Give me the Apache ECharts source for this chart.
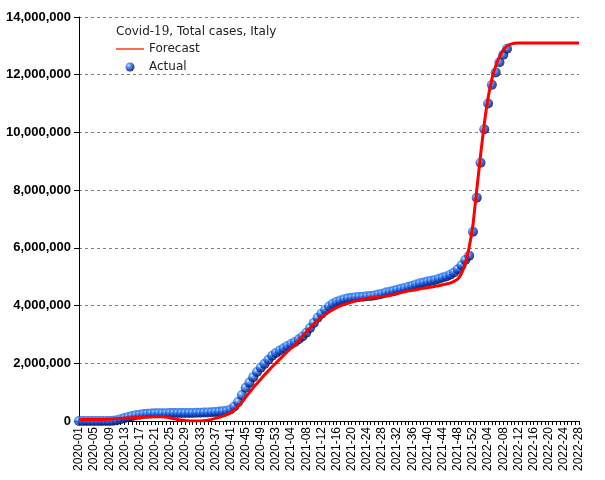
<!DOCTYPE html>
<html>
<head>
<meta charset="utf-8">
<script src="https://cdn.jsdelivr.net/npm/echarts@6/dist/echarts.min.js"></script>
<style>html,body{margin:0;padding:0;background:#fff;}#c{width:605px;height:480px;}</style>
</head>
<body>
<div id="c"></div>
<script>
// Week categories: years and the number of weeks shown for each
const years = [2020, 2021, 2022];
const weeksPerYear = [53, 52, 28];
const categories = [];
years.forEach((y, k) => {
  for (let w = 1; w <= weeksPerYear[k]; w++) categories.push(y + '-' + (w < 10 ? '0' + w : w));
});

const yTicks = [0, 2000000, 4000000, 6000000, 8000000, 10000000, 12000000, 14000000];

const forecast = [
  40000, 50000, 50000, 50000, 50000, 50000, 50000, 55000, 60000, 70000,
  80000, 90000, 100000, 105000, 110000, 115000, 120000, 130000, 140000, 145000,
  150000, 150000, 145000, 135000, 110000, 80000, 50000, 30000, 15000, 5000,
  0, 0, 0, 5000, 25000, 55000, 90000, 130000, 170000, 220000,
  290000, 380000, 500000, 650000, 820000, 990000, 1150000, 1300000, 1450000, 1600000,
  1740000, 1880000, 2010000, 2140000, 2270000, 2400000, 2520000, 2650000, 2790000, 2940000,
  3080000, 3220000, 3360000, 3480000, 3590000, 3690000, 3780000, 3860000, 3930000, 3990000,
  4040000, 4080000, 4120000, 4160000, 4190000, 4220000, 4250000, 4270000, 4290000, 4300000,
  4310000, 4330000, 4350000, 4380000, 4410000, 4450000, 4480000, 4510000, 4530000, 4550000,
  4580000, 4600000, 4620000, 4640000, 4670000, 4690000, 4720000, 4750000, 4780000, 4840000,
  4920000, 5120000, 5480000, 6020000, 6800000, 8000000, 9200000, 10300000, 11200000, 11850000,
  12300000, 12620000, 12850000, 13000000, 13060000, 13090000, 13100000, 13100000, 13100000, 13100000,
  13100000, 13100000, 13100000, 13100000, 13100000, 13100000, 13100000, 13100000, 13100000, 13100000,
  13100000, 13100000, 13100000
];

const actual = [
  0, 0, 0, 0, 0, 0, 0, 0, 0, 10000,
  30000, 60000, 100000, 140000, 170000, 200000, 220000, 240000, 250000, 260000,
  265000, 268000, 270000, 272000, 274000, 275000, 276000, 277000, 278000, 279000,
  280000, 283000, 287000, 292000, 298000, 305000, 315000, 325000, 335000, 355000,
  400000, 500000, 660000, 900000, 1150000, 1330000, 1520000, 1700000, 1850000, 1980000,
  2120000, 2260000, 2360000, 2440000, 2520000, 2600000, 2670000, 2740000, 2830000, 2930000,
  3060000, 3220000, 3400000, 3580000, 3720000, 3850000, 3970000, 4060000, 4130000, 4180000,
  4220000, 4250000, 4270000, 4290000, 4300000, 4310000, 4320000, 4330000, 4350000, 4380000,
  4410000, 4450000, 4480000, 4510000, 4550000, 4580000, 4610000, 4650000, 4690000, 4730000,
  4770000, 4800000, 4830000, 4860000, 4890000, 4930000, 4970000, 5010000, 5070000, 5150000,
  5260000, 5400000, 5580000, 5730000, 6560000, 7740000, 8950000, 10110000, 11000000, 11650000,
  12080000, 12430000, 12690000, 12900000
];

const sphere = {
  type: 'radial', x: 0.35, y: 0.32, r: 0.72,
  colorStops: [
    { offset: 0, color: '#d8f0ff' },
    { offset: 0.2, color: '#4aa0ff' },
    { offset: 0.55, color: '#1446d0' },
    { offset: 0.85, color: '#061a70' },
    { offset: 1, color: '#000820' }
  ]
};

const chart = echarts.init(document.getElementById('c'));
chart.setOption({
  animation: false,
  backgroundColor: '#ffffff',
  title: {
    text: 'Covid-{n|19}, Total cases, Italy',
    left: 116, top: 26, padding: 0,
    textStyle: {
      fontFamily: 'DejaVu Sans', fontSize: 12, fontWeight: 'normal', color: '#222',
      rich: { n: { fontFamily: 'DejaVu Serif', fontSize: 12, color: '#222' } }
    }
  },
  legend: {
    orient: 'vertical', left: 116, top: 43, padding: 0,
    itemWidth: 28, itemHeight: 9, itemGap: 6,
    textStyle: { fontFamily: 'DejaVu Sans', fontSize: 12, color: '#222' },
    data: [
      { name: 'Forecast', icon: 'path://M0,0H28V1.5H0Z', itemStyle: { color: '#ff3a10' } },
      { name: 'Actual', icon: 'circle' }
    ]
  },
  grid: { left: 79, right: 26, top: 17, bottom: 59, containLabel: false },
  xAxis: {
    type: 'category', data: categories, boundaryGap: false,
    axisLine: { lineStyle: { color: '#000', width: 1 } },
    axisTick: { show: true, interval: 0, length: 4, lineStyle: { color: '#000' } },
    axisLabel: { interval: 3, rotate: 90, fontFamily: 'Liberation Sans', fontSize: 12, color: '#000', margin: 6 },
    splitLine: { show: false }
  },
  yAxis: {
    type: 'value', min: yTicks[0], max: yTicks[yTicks.length - 1], interval: yTicks[1] - yTicks[0],
    axisLine: { show: true, lineStyle: { color: '#000', width: 1 } },
    axisTick: { show: true, length: 5, lineStyle: { color: '#000' } },
    axisLabel: {
      fontFamily: 'Liberation Sans', fontWeight: 'bold', fontSize: 13, color: '#000', margin: 8,
      formatter: v => v.toLocaleString('en-US')
    },
    splitLine: { show: true, lineStyle: { color: '#808080', type: [3, 3], width: 1 } }
  },
  series: [
    {
      name: 'Actual', type: 'scatter', data: actual, z: 2,
      symbol: 'circle', symbolSize: 10,
      itemStyle: { color: sphere }
    },
    {
      name: 'Forecast', type: 'line', data: forecast, z: 3,
      showSymbol: false, symbol: 'none', smooth: 0.15,
      lineStyle: { color: '#ff0000', width: 3 },
      itemStyle: { color: '#ff0000' }
    }
  ]
});
</script>
</body>
</html>
